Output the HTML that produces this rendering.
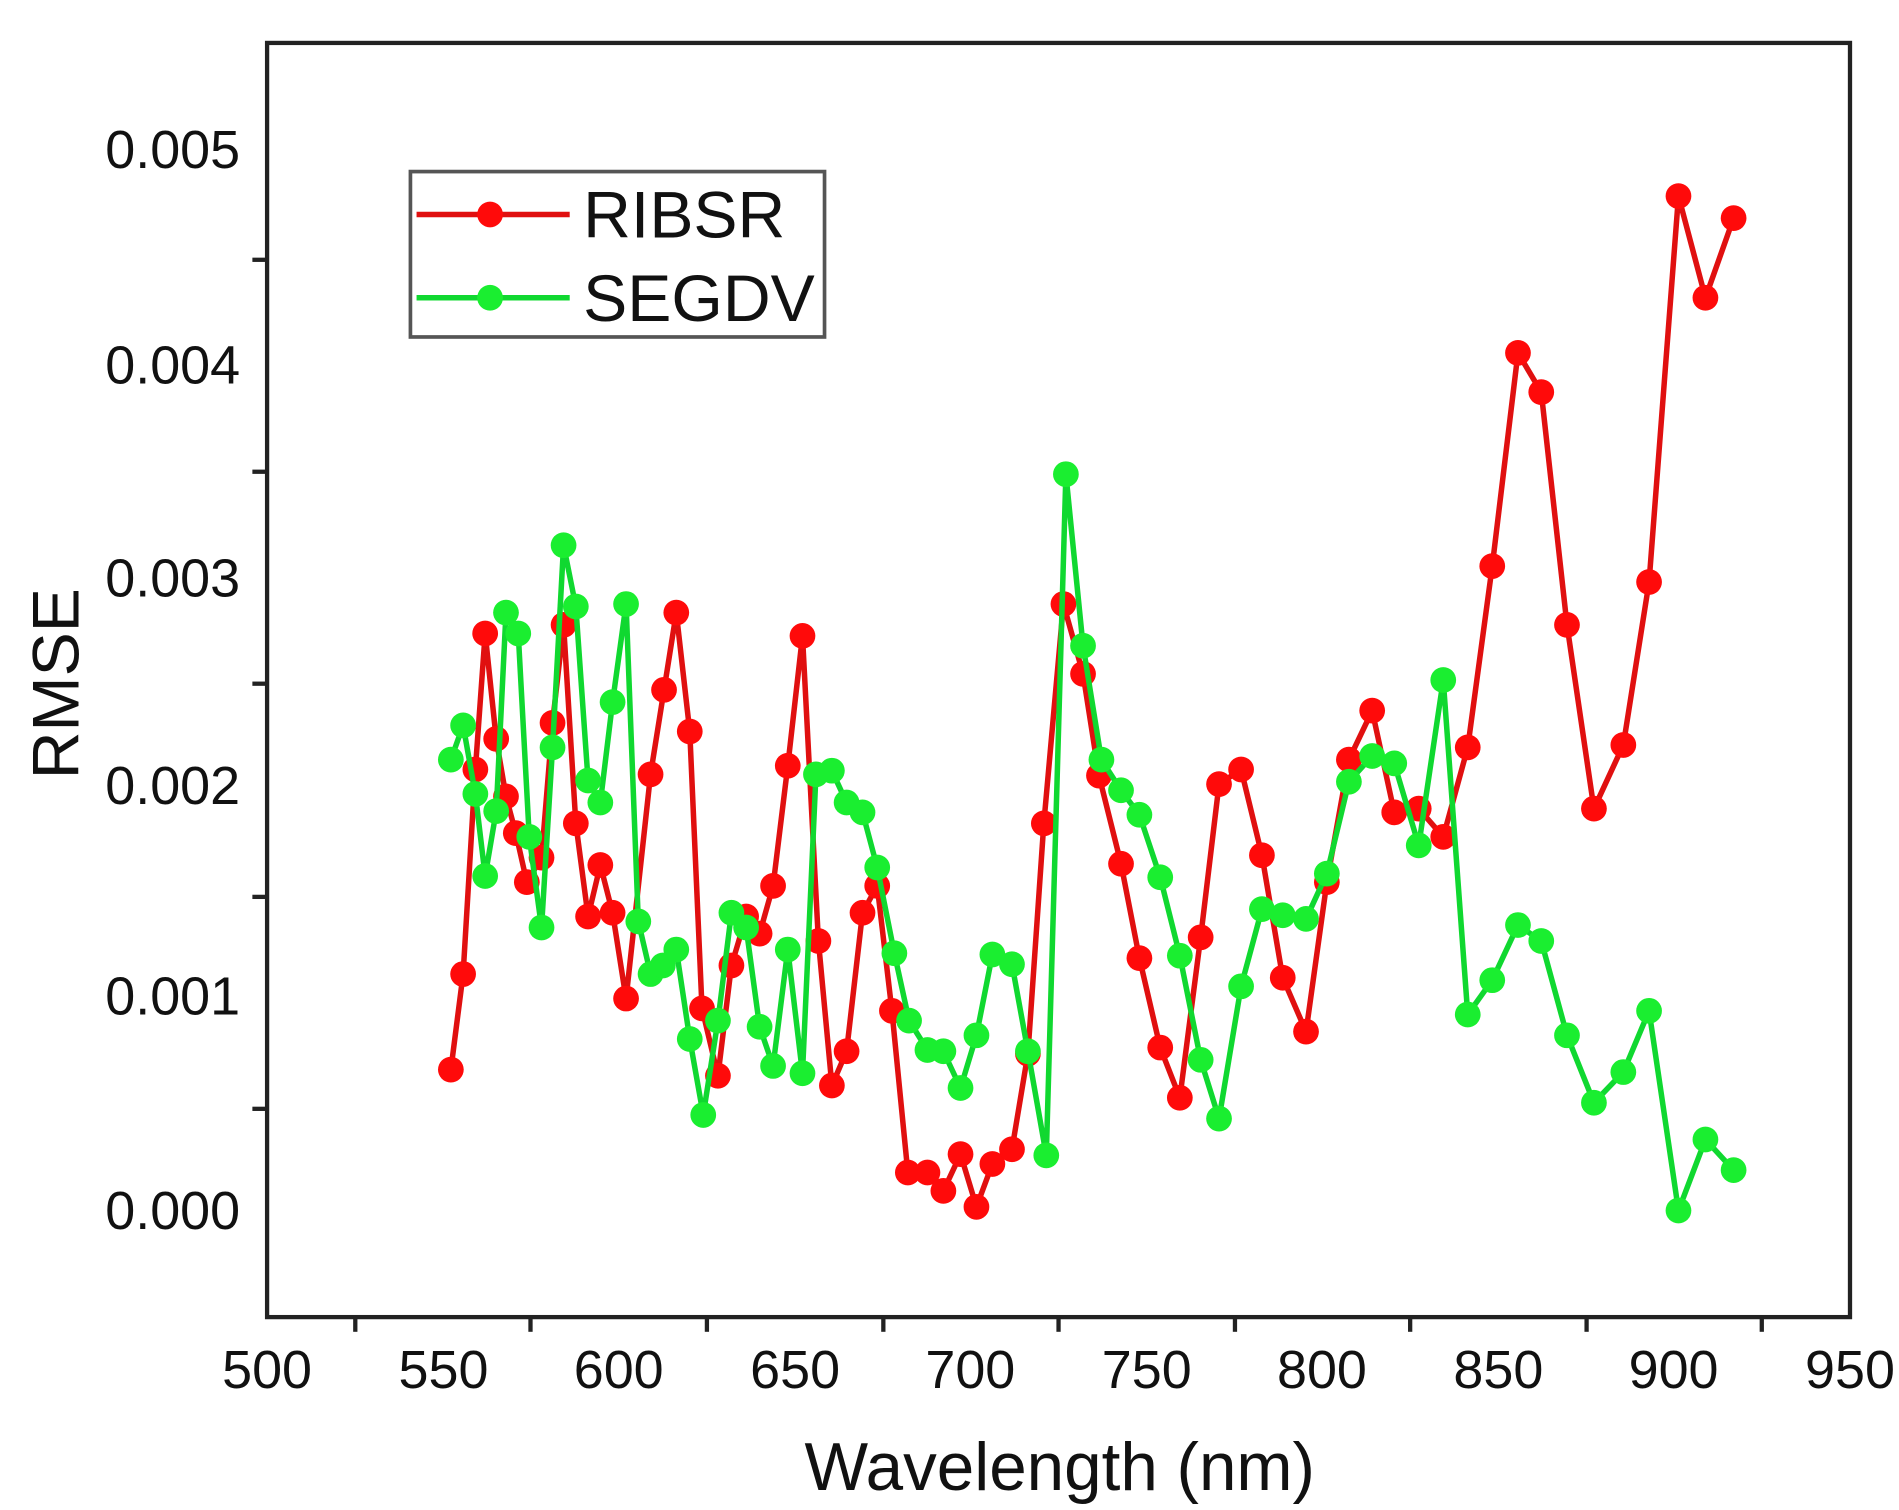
<!DOCTYPE html>
<html><head><meta charset="utf-8"><style>html,body{margin:0;padding:0;background:#fff}svg{display:block}</style></head>
<body>
<svg width="1899" height="1510" viewBox="0 0 1550 1232.4" xmlns="http://www.w3.org/2000/svg" font-family="Liberation Sans, Arial, sans-serif">
<rect width="1550" height="1232.4" fill="#fff"/>
<rect x="218" y="35" width="1292" height="1040" fill="none" stroke="#222" stroke-width="3.5"/>
<g stroke="#222" stroke-width="3.5">
<line x1="206" y1="905" x2="218" y2="905"/><line x1="206" y1="732" x2="218" y2="732"/><line x1="206" y1="558" x2="218" y2="558"/><line x1="206" y1="385" x2="218" y2="385"/><line x1="206" y1="212" x2="218" y2="212"/>
<line x1="290" y1="1075" x2="290" y2="1087"/><line x1="433" y1="1075" x2="433" y2="1087"/><line x1="577" y1="1075" x2="577" y2="1087"/><line x1="721" y1="1075" x2="721" y2="1087"/><line x1="864" y1="1075" x2="864" y2="1087"/><line x1="1008" y1="1075" x2="1008" y2="1087"/><line x1="1151" y1="1075" x2="1151" y2="1087"/><line x1="1295" y1="1075" x2="1295" y2="1087"/><line x1="1438" y1="1075" x2="1438" y2="1087"/>
</g>
<g font-size="44" fill="#111" text-anchor="end">
<text x="196" y="137">0.005</text><text x="196" y="313">0.004</text><text x="196" y="487">0.003</text><text x="196" y="656">0.002</text><text x="196" y="828">0.001</text><text x="196" y="1003">0.000</text>
</g>
<g font-size="44" fill="#111" text-anchor="middle">
<text x="218" y="1133">500</text><text x="362" y="1133">550</text><text x="505" y="1133">600</text><text x="649" y="1133">650</text><text x="792" y="1133">700</text><text x="936" y="1133">750</text><text x="1079" y="1133">800</text><text x="1223" y="1133">850</text><text x="1366" y="1133">900</text><text x="1510" y="1133">950</text>
</g>
<text x="865" y="1216" font-size="55" text-anchor="middle" fill="#111">Wavelength (nm)</text>
<text transform="translate(64,558) rotate(-90)" font-size="54" text-anchor="middle" fill="#111">RMSE</text>
<g id="red">
<polyline fill="none" stroke="#e01010" stroke-width="4.5" stroke-linejoin="round" points="368,873 378,795 388,628 396,517 405,603 413,650 421,680 430,720 442,700 451,590 460,510 470,672 480,748 490,706 500,745 511,815 531,632 542,563 552,500 563,597 573,823 586,878 597,788 609,748 620,762 631,723 643,625 655,519 668,768 679,886 691,858 704,745 716,723 728,825 741,957 757,957 770,972 784,942 797,985 810,950 826,938 839,860 852,672 868,493 884,550 897,633 915,705 930,782 947,855 963,896 980,765 995,640 1013,628 1030,698 1047,798 1066,842 1083,720 1101,620 1120,580 1138,663 1158,660 1178,683 1198,610 1218,462 1239,288 1258,320 1279,510 1301,660 1325,608 1346,475 1370,160 1392,243 1415,178"/>
</g>
<g id="green">
<polyline fill="none" stroke="#10d830" stroke-width="4.5" stroke-linejoin="round" points="368,620 378,592 388,648 396,715 405,662 413,500 423,517 432,683 442,757 451,610 460,445 470,495 480,637 490,655 500,573 511,493 521,752 531,795 541,788 552,775 563,848 574,910 586,833 597,745 609,757 620,838 631,870 643,775 655,876 666,632 679,629 691,655 704,663 716,708 730,778 742,833 757,857 770,858 784,888 797,845 810,779 826,787 839,858 854,943 870,387 884,527 899,620 915,645 930,665 947,716 963,780 980,865 995,913 1013,805 1030,742 1047,747 1066,750 1083,713 1101,638 1120,617 1138,623 1158,690 1178,555 1198,828 1218,800 1239,755 1258,768 1279,845 1301,900 1325,875 1346,825 1370,988 1392,930 1415,955"/>
</g>
<rect x="335" y="140" width="338" height="135" fill="#fff" stroke="#555" stroke-width="3"/>
<line x1="340" y1="175" x2="465" y2="175" stroke="#e01010" stroke-width="4.5"/>
<circle cx="400" cy="175" r="10.5" fill="#ff0a0a"/>
<line x1="340" y1="243" x2="465" y2="243" stroke="#10d830" stroke-width="4.5"/>
<circle cx="400" cy="243" r="10.5" fill="#1aee30"/>
<text x="476" y="194" font-size="54" fill="#111">RIBSR</text>
<text x="476" y="262" font-size="54" fill="#111">SEGDV</text>
<script>
(function(){
var ns="http://www.w3.org/2000/svg";
[["red","#ff0a0a"],["green","#1aee30"]].forEach(function(s){
var g=document.getElementById(s[0]);
var pts=g.querySelector("polyline").getAttribute("points").trim().split(/\s+/);
pts.forEach(function(p){var a=p.split(",");var c=document.createElementNS(ns,"circle");c.setAttribute("cx",a[0]);c.setAttribute("cy",a[1]);c.setAttribute("r","10.5");c.setAttribute("fill",s[1]);g.appendChild(c);});
});
})();
</script>
</svg>
</body></html>
